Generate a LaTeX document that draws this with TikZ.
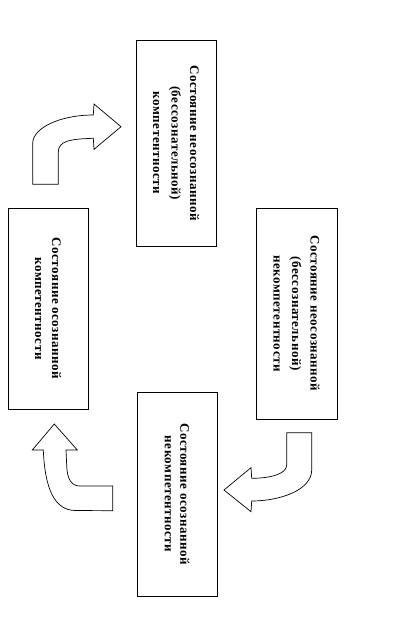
\documentclass[tikz,border=0pt]{standalone}
\usepackage{fontspec}
\setmainfont{Liberation Serif}
\tikzset{
  sostbox/.style={draw, line width=0.8pt, rotate=-90, align=center, inner sep=0pt,
                  font=\fontsize{13}{18.5}\selectfont\bfseries\addfontfeature{LetterSpace=4}},
  strelka/.style={draw, line width=0.7pt, fill=white, line join=miter},
}

\begin{document}
\begin{tikzpicture}[x=1pt, y=-1pt]
    \useasboundingbox (0,0) rectangle (401,625);
    % sostoyaniya (chetyre bloka)
    \node[sostbox, minimum width=206pt, minimum height=80pt] (neosozkomp) at (176,143)
        {Состояние неосознанной\\(бессознательной)\\компетентности};
    \node[sostbox, minimum width=211pt, minimum height=81pt] (neosoznekomp) at (296.5,313.5)
        {Состояние неосознанной\\(бессознательной)\\некомпетентности};
    \node[sostbox, minimum width=204pt, minimum height=80pt,
          font=\fontsize{13}{15.5}\selectfont\bfseries\addfontfeature{LetterSpace=4}] (osoznekomp) at (177,494)
        {Состояние осознанной\\некомпетентности};
    \node[sostbox, minimum width=201pt, minimum height=80pt,
          font=\fontsize{13}{17}\selectfont\bfseries\addfontfeature{LetterSpace=4}] (osozkomp) at (48,308.5)
        {Состояние осознанной\\компетентности};
    % strelka vverhu sleva (vpravo)
    \draw[strelka] (32.7,184.3) -- (32.7,143.3) .. controls (32.7,128) and (60,115) .. (93.3,115)
        -- (94,104) -- (121,126.7) -- (94,149.3) -- (93.3,138.3)
        .. controls (70,139) and (58.3,141) .. (58.3,152) -- (58.3,184.3) -- cycle;
    % strelka vnizu sprava (vlevo)
    \draw[strelka] (286.7,432.7) -- (311.7,432.7) -- (311.7,470)
        .. controls (311.7,490) and (280,501) .. (251.7,501)
        -- (251,511.7) -- (224,490) -- (251,467.7) -- (251.7,478.3)
        .. controls (270,478.3) and (286.7,474) .. (286.7,465) -- cycle;
    % strelka vnizu sleva (vverh)
    \draw[strelka] (112.7,510.7) -- (75,510.5) .. controls (55,510) and (45,490) .. (43.3,450)
        -- (32.3,450) -- (54.3,424) -- (77.3,450) -- (66,450) -- (66.7,465)
        .. controls (67,480) and (72,486) .. (80,486) -- (112.7,486) -- cycle;
\end{tikzpicture}
\end{document}
